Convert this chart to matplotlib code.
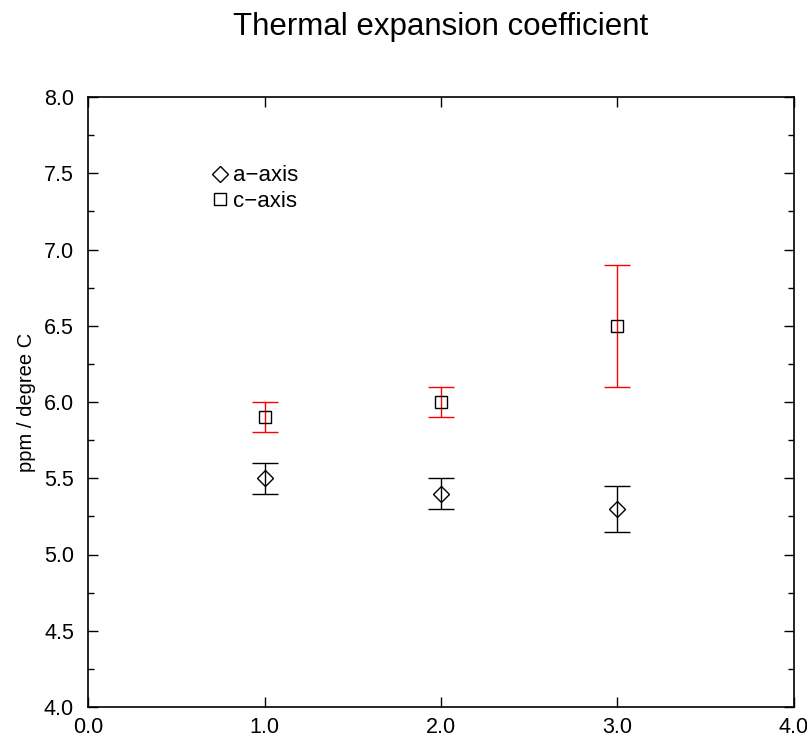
import matplotlib
matplotlib.use("Agg")
import matplotlib.pyplot as plt
from matplotlib.lines import Line2D
from matplotlib.ticker import MultipleLocator, FormatStrFormatter

plt.rcParams['font.family'] = ['Liberation Sans', 'DejaVu Sans']

x = [1.0, 2.0, 3.0]
a_axis = [5.5, 5.4, 5.3]
a_err = [0.1, 0.1, 0.15]
c_axis = [5.9, 6.0, 6.5]
c_err = [0.1, 0.1, 0.4]
series_names = ["a\u2212axis", "c\u2212axis"]

fig = plt.figure(figsize=(8.07, 7.37), dpi=100)
ax = fig.add_axes([88/807, 1 - 707/737, (794-88)/807, (707-97)/737])

ax.errorbar(x, a_axis, yerr=a_err, fmt='D', mfc='none', mec='black', ms=8, mew=1.0,
            ecolor='black', elinewidth=1.0, capsize=9.7, capthick=1.0)
ax.errorbar(x, c_axis, yerr=c_err, fmt='s', mfc='none', mec='black', ms=9, mew=1.0,
            ecolor='red', elinewidth=1.0, capsize=9.7, capthick=1.0)

ax.set_xlim(0, 4)
ax.set_ylim(4, 8)
ax.xaxis.set_major_locator(MultipleLocator(1.0))
ax.yaxis.set_major_locator(MultipleLocator(0.5))
ax.yaxis.set_minor_locator(MultipleLocator(0.25))
ax.xaxis.set_major_formatter(FormatStrFormatter('%.1f'))
ax.yaxis.set_major_formatter(FormatStrFormatter('%.1f'))
ax.tick_params(which='both', direction='in', top=True, right=True, labelsize=15.5)
ax.tick_params(axis='y', which='major', length=7, width=1, pad=10)
ax.tick_params(axis='y', which='minor', length=4, width=1)
ax.tick_params(axis='x', which='major', length=7, width=1, pad=7)
for s in ax.spines.values():
    s.set_linewidth(1.2)

ax.set_ylabel("ppm / degree C", fontsize=14.5, labelpad=5.5)
fig.text(441/807, 1 - 27/737, "Thermal expansion coefficient", ha='center', va='center', fontsize=22.5)

handles = [Line2D([], [], marker='D', ls='none', mfc='none', mec='black', ms=8, mew=1.0),
           Line2D([], [], marker='s', ls='none', mfc='none', mec='black', ms=9, mew=1.0)]
ax.legend(handles, series_names, loc='upper left', bbox_to_anchor=(0.178, 0.888),
          frameon=False, handlelength=0.6, handletextpad=0.25, labelspacing=0.2,
          fontsize=16, borderaxespad=0, borderpad=0)

fig.savefig("out.png", dpi=100)
